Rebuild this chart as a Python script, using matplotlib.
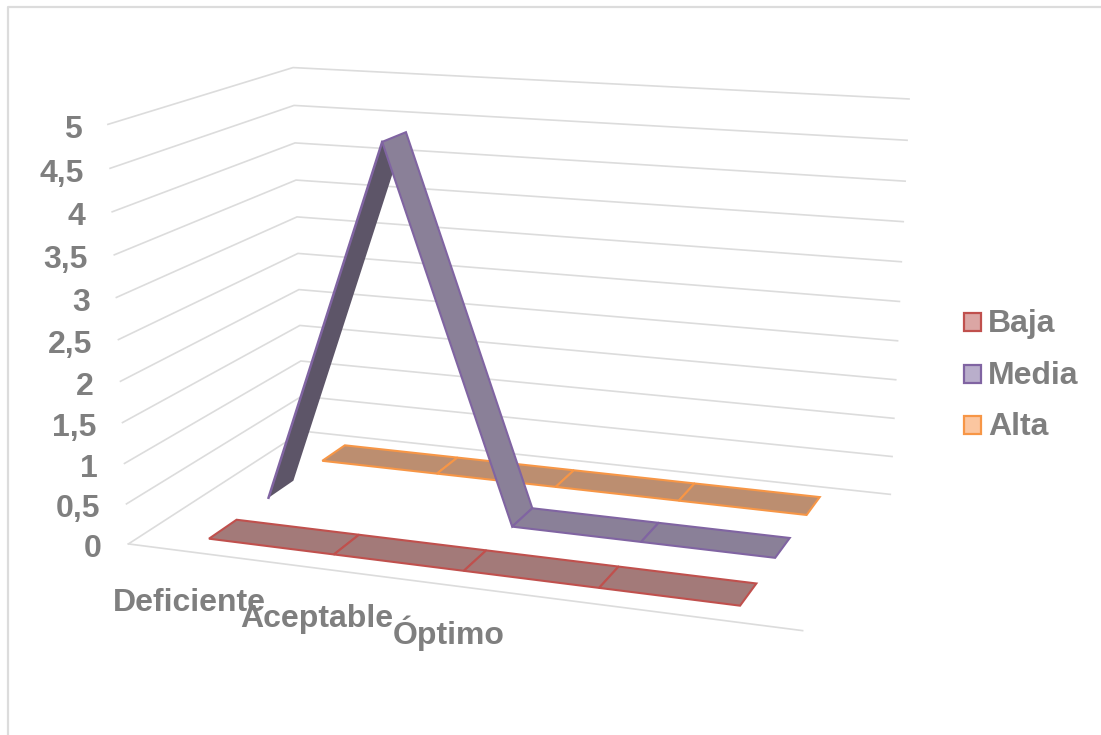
import numpy as np
import matplotlib
matplotlib.use('Agg')
import matplotlib.pyplot as plt
from matplotlib.patches import Polygon, Rectangle

categorias = ['Deficiente', 'Aceptable', 'Óptimo', '', '']
baja = [0, 0, 0, 0, 0]
media = [0, 4.6, 0, 0, 0]
alta = [0, 0, 0, 0, 0]
series_nombres = ['Baja', 'Media', 'Alta']
ticks_valor = [0, 0.5, 1, 1.5, 2, 2.5, 3, 3.5, 4, 4.5, 5]
ticks_texto = ['0', '0,5', '1', '1,5', '2', '2,5', '3', '3,5', '4', '4,5', '5']

GRIS = '#7F7F7F'
LINEA = '#DCDCDC'
BORDES = ['#C0504D', '#8064A2', '#F79646']
RELLENOS = ['#A37A79', '#8A8098', '#BC8E70']
OSCURO = '#5D5568'
LEYENDA = ['#DBA6A4', '#B9AECB', '#FBC6A0']

plt.rcParams['font.family'] = ['Liberation Sans', 'DejaVu Sans']

# camara de la escena 3D: esquinas de la caja (x, serie, valor) y su posicion en pantalla
esquinas = [
    (0, 0, 0, 128, 543), (0, 3, 0, 303, 432), (5, 3, 0, 890, 494), (5, 0, 0, 803, 631),
    (0, 0, 5, 108, 125), (0, 3, 5, 293, 67), (5, 3, 5, 909, 99),
]
A, b = [], []
for X, Y, Z, u, v in esquinas:
    A.append([X, Y, Z, 1, 0, 0, 0, 0, -u * X, -u * Y, -u * Z])
    A.append([0, 0, 0, 0, X, Y, Z, 1, -v * X, -v * Y, -v * Z])
    b += [u, v]
p = np.linalg.lstsq(np.array(A, float), np.array(b, float), rcond=None)[0]
P = np.append(p, 1.0).reshape(3, 4)


def proy(x, s, z):
    q = P @ np.array([x, s, z, 1.0])
    return q[0] / q[2], q[1] / q[2]


fig = plt.figure(figsize=(11.01, 7.35), dpi=100)
ax = fig.add_axes([0, 0, 1, 1])
ax.set_xlim(0, 1101)
ax.set_ylim(735, 0)
ax.axis('off')

# marco del grafico
ax.plot([8, 8, 1101], [735, 7, 7], color=LINEA, lw=1.6)

# rejilla en las dos paredes y el suelo
n_cat = len(categorias)
n_ser = len(series_nombres)
for t in ticks_valor:
    pts = [proy(0, 0, t), proy(0, n_ser, t), proy(n_cat, n_ser, t)]
    ax.plot(*zip(*pts), color=LINEA, lw=1.2, solid_joinstyle='miter')
ax.plot(*zip(proy(0, 0, 0), proy(n_cat, 0, 0)), color=LINEA, lw=1.2)

for t, txt in zip(ticks_valor, ticks_texto):
    x, y = proy(0, 0, t)
    ax.text(x - 26.5, y + 13.5, txt, ha='right', va='baseline', fontsize=23, fontweight='bold', color=GRIS)

for i, txt in enumerate(categorias):
    x, y = proy(i + 0.5, 0, 0)
    ax.text(x, y + 59, txt, ha='center', va='baseline', fontsize=23, fontweight='bold', color=GRIS)


# cintas de cada serie, de atras hacia delante
def cinta(valores, s, borde, relleno, orden):
    s0, s1 = s + 0.3, s + 0.75
    for i in range(len(valores) - 1):
        a, c = i + 0.5, i + 1.5
        va, vc = valores[i], valores[i + 1]
        pol = [proy(a, s0, va), proy(c, s0, vc), proy(c, s1, vc), proy(a, s1, va)]
        if vc > va:
            # el tramo que sube deja ver su cara inferior, mas oscura
            ax.add_patch(Polygon(pol, closed=True, facecolor=OSCURO, edgecolor='none', zorder=orden))
            ax.plot(*zip(pol[0], pol[1]), color=borde, lw=1.8, zorder=orden)
        else:
            ax.add_patch(Polygon(pol, closed=True, facecolor=relleno, edgecolor=borde, lw=1.5,
                                 joinstyle='miter', zorder=orden + 0.1))


cinta(alta, 2, BORDES[2], RELLENOS[2], 3)
cinta(media, 1, BORDES[1], RELLENOS[1], 4)
cinta(baja, 0, BORDES[0], RELLENOS[0], 5)

# leyenda
for nombre, y, borde, cara in zip(series_nombres, [313, 365, 416], BORDES, LEYENDA):
    ax.add_patch(Rectangle((963.5, y), 17.5, 17.5, facecolor=cara, edgecolor=borde, lw=1.6))
    ax.text(988, y + 18.5, nombre, ha='left', va='baseline', fontsize=23, fontweight='bold', color=GRIS)

fig.savefig('out.png', dpi=100)
